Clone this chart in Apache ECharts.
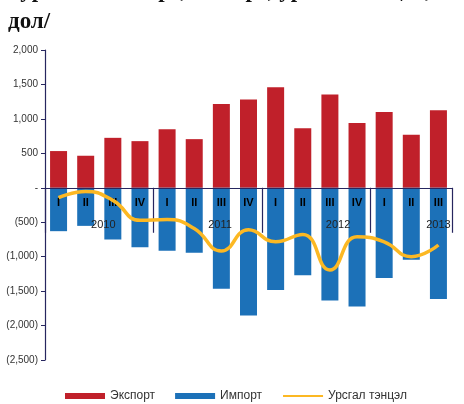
<!DOCTYPE html>
<html><head><meta charset="utf-8">
<script src="https://cdn.jsdelivr.net/npm/echarts@6/dist/echarts.min.js"></script>
<style>html,body{margin:0;padding:0;background:#fff}#c{width:464px;height:404px}</style>
</head><body><div id="c"></div>
<script>
const quarters = ['I','II','III','IV','I','II','III','IV','I','II','III','IV','I','II','III'];
const years = ['2010','2011','2012','2013'];
const exportVals = [533,465,725,677,850,706,1215,1282,1460,865,1355,941,1100,768,1124];
const importVals = [-630,-553,-749,-865,-914,-942,-1465,-1855,-1484,-1268,-1638,-1725,-1311,-1043,-1614];
const balanceVals = [-144,-53,-183,-471,-461,-591,-918,-610,-784,-677,-1192,-712,-784,-1000,-831];
const seriesNames = ['Экспорт','Импорт','Урсгал тэнцэл'];
const titleLines = ['Зураг 3. Экспорт, импорт, урсгал тэнцэл, /сая ам.', 'дол/'];
const yMin = -2500, yMax = 2000, yStep = 500;

const yearLabelPos = [2.15, 6.45, 10.8, 14.5];
const yearBounds = [0, 4, 8, 12, 15];

const NAVY = '#27265f', RED = '#c0202a', BLUE = '#1c71b8', GOLD = '#fcb823';
const W = 464, H = 404;
const GRID = { left: 45, right: 12, top: 50, bottom: 44 };
const gridH = H - GRID.top - GRID.bottom;
// place the category axes on the zero line of the value axis
const zeroOffset = -((0 - yMin) / (yMax - yMin)) * gridH;

function fmtY(v) {
  if (v === 0) return '-';
  const s = Math.abs(v).toLocaleString('en-US');
  return v < 0 ? '(' + s + ')' : s;
}

const chart = echarts.init(document.getElementById('c'));
chart.setOption({
  animation: false,
  backgroundColor: '#fff',
  textStyle: { fontFamily: 'Liberation Sans' },
  title: {
    text: titleLines.join('\n'),
    left: 8, top: -24, padding: 0,
    textStyle: { fontFamily: 'Liberation Serif', fontWeight: 'bold', fontSize: 23, lineHeight: 31, color: '#111' }
  },
  legend: {
    left: 65, top: 390, padding: 0,
    itemWidth: 40, itemHeight: 6, itemGap: 20,
    textStyle: { fontSize: 12, color: '#333', fontFamily: 'Liberation Sans' },
    data: [
      { name: seriesNames[0], icon: 'rect' },
      { name: seriesNames[1], icon: 'rect' },
      { name: seriesNames[2], itemStyle: { opacity: 0 } }
    ]
  },
  grid: Object.assign({ outerBoundsMode: 'none' }, GRID),
  xAxis: [{
    type: 'category',
    position: 'bottom',
    offset: zeroOffset,
    z: 4,
    data: quarters,
    boundaryGap: true,
    axisLine: { onZero: false, lineStyle: { color: NAVY, width: 1.2 } },
    axisTick: { show: false },
    axisLabel: { margin: 10, fontSize: 11, fontWeight: 'bold', color: '#000', interval: 0 },
    splitLine: { show: false }
  }, {
    type: 'value',
    position: 'bottom',
    offset: zeroOffset,
    z: 4,
    min: 0, max: 15,
    axisLine: { show: false, onZero: false },
    axisTick: { show: true, customValues: yearBounds, length: 45, lineStyle: { color: NAVY, width: 1.2 } },
    axisLabel: {
      customValues: yearLabelPos, margin: 32, fontSize: 11, color: '#222',
      formatter: function (v) {
        let best = 0;
        yearLabelPos.forEach((p, i) => { if (Math.abs(p - v) < Math.abs(yearLabelPos[best] - v)) best = i; });
        return years[best];
      }
    },
    splitLine: { show: false }
  }],
  yAxis: [{
    type: 'value',
    min: yMin, max: yMax, interval: yStep,
    axisLine: { show: true, onZero: false, lineStyle: { color: NAVY, width: 1.2 } },
    axisTick: { show: true, length: 4, lineStyle: { color: NAVY } },
    axisLabel: { formatter: fmtY, fontSize: 10, color: '#333', margin: 7 },
    splitLine: { show: false }
  }],
  series: [{
    name: seriesNames[0], type: 'bar', stack: 'trade', data: exportVals,
    barWidth: 17, z: 2, itemStyle: { color: RED }
  }, {
    name: seriesNames[1], type: 'bar', stack: 'trade', data: importVals,
    barWidth: 17, z: 2, itemStyle: { color: BLUE }
  }, {
    name: seriesNames[2], type: 'line', data: balanceVals, smooth: 0.5,
    symbol: 'none', showSymbol: false, z: 6,
    lineStyle: { color: GOLD, width: 3.5 }, itemStyle: { color: GOLD }
  }]
});
</script></body></html>
